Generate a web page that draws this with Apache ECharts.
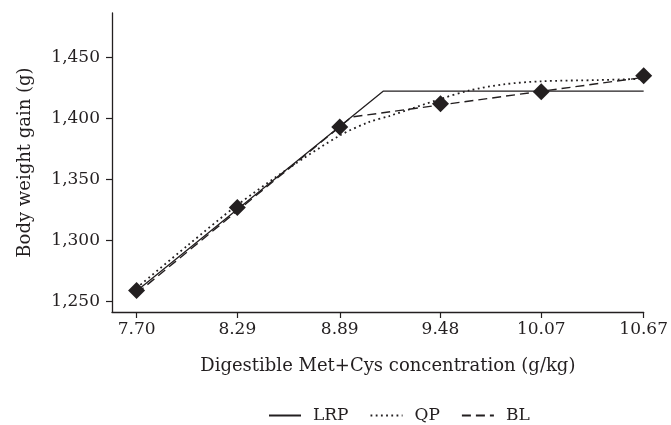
<!DOCTYPE html>
<html>
<head>
<meta charset="utf-8">
<script src="https://cdn.jsdelivr.net/npm/echarts@6/dist/echarts.min.js"></script>
<style>html,body{margin:0;padding:0;background:#fff}#c{width:671px;height:425px}</style>
</head>
<body>
<div id="c"></div>
<script>
// Observed data (diamonds)
const xTicks = [7.70, 8.29, 8.89, 9.48, 10.07, 10.67];
const yTicks = [1250, 1300, 1350, 1400, 1450];
const obsX = [7.70, 8.29, 8.89, 9.48, 10.07, 10.67];
const obsY = [1259, 1327, 1393, 1412, 1422, 1435];
// LRP (linear response plateau)
const lrpX = [7.70, 9.144, 10.67];
const lrpY = [1258.5, 1422.4, 1422.4];
// QP (quadratic polynomial)
const qpX = [7.70, 8.00, 8.29, 8.60, 8.89, 9.06, 9.18, 9.48, 9.65, 9.85, 10.07, 10.40, 10.67];
const qpY = [1261, 1296, 1329, 1360, 1386, 1397, 1402, 1416, 1423, 1428, 1430.5, 1431.5, 1432.5];
// BL (broken line)
const blX = [7.70, 8.96, 10.67];
const blY = [1256.5, 1401.2, 1433.7];

const pairs = (xs, ys) => xs.map((x, i) => [x, ys[i]]);
const INK = '#231f20';
const FONT = 'DejaVu Serif';

const chart = echarts.init(document.getElementById('c'), null, {renderer: 'canvas'});
chart.setOption({
  animation: false,
  backgroundColor: '#fff',
  textStyle: {fontFamily: FONT, color: INK},
  grid: {left: 112, right: 26, top: 13, bottom: 113},
  legend: {
    data: ['LRP', 'QP', 'BL'],
    left: 268, top: 407, padding: 0,
    itemWidth: 32, itemHeight: 14, itemGap: 21,
    itemStyle: {opacity: 0},
    textStyle: {fontFamily: FONT, fontSize: 17, color: INK, padding: [0, 0, 0, 7]}
  },
  xAxis: {
    type: 'value', min: 7.556, max: 10.67,
    name: 'Digestible Met+Cys concentration (g/kg)',
    nameLocation: 'middle', nameGap: 45,
    nameTextStyle: {fontFamily: FONT, fontSize: 18, color: INK, padding: [0, 0, 0, 20]},
    axisLine: {lineStyle: {color: INK, width: 1.3}},
    axisTick: {show: true, length: 6, customValues: xTicks, lineStyle: {color: INK, width: 1.2}},
    axisLabel: {customValues: xTicks, margin: 9, fontFamily: FONT, fontSize: 17, color: INK,
      formatter: v => Number(v).toFixed(2)},
    splitLine: {show: false}
  },
  yAxis: {
    type: 'value', min: 1241.3, max: 1486.5,
    name: 'Body weight gain (g)',
    nameLocation: 'middle', nameGap: 78,
    nameTextStyle: {fontFamily: FONT, fontSize: 18, color: INK},
    axisLine: {show: true, lineStyle: {color: INK, width: 1.3}},
    axisTick: {show: true, length: 6, customValues: yTicks, lineStyle: {color: INK, width: 1.2}},
    axisLabel: {customValues: yTicks, margin: 12, fontFamily: FONT, fontSize: 17, color: INK,
      formatter: v => Number(v).toLocaleString('en-US')},
    splitLine: {show: false}
  },
  series: [
    {name: 'LRP', type: 'line', data: pairs(lrpX, lrpY), symbol: 'none',
      lineStyle: {color: INK, width: 1.3, type: 'solid'}, itemStyle: {color: INK}, z: 2},
    {name: 'QP', type: 'line', data: pairs(qpX, qpY), symbol: 'none', smooth: 0.3,
      lineStyle: {color: INK, width: 1.8, type: [1.8, 3.4]}, itemStyle: {color: INK}, z: 2},
    {name: 'BL', type: 'line', data: pairs(blX, blY), symbol: 'none',
      lineStyle: {color: INK, width: 1.4, type: [9, 5]}, itemStyle: {color: INK}, z: 2},
    {name: 'obs', type: 'scatter', data: pairs(obsX, obsY), symbol: 'diamond', symbolSize: [17, 17],
      itemStyle: {color: INK, opacity: 1}, z: 5}
  ]
});
</script>
</body>
</html>
